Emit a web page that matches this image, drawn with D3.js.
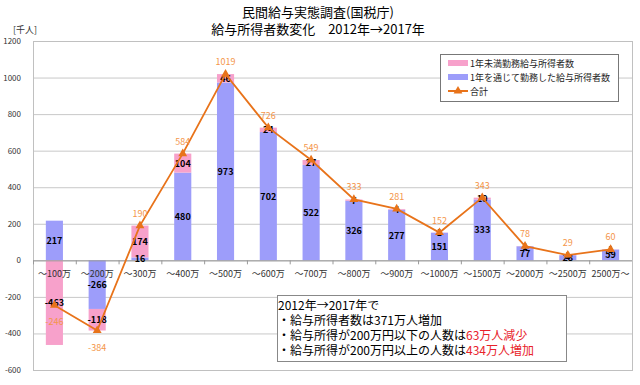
<!DOCTYPE html>
<html>
<head>
<meta charset="utf-8">
<script src="https://cdn.jsdelivr.net/npm/d3@7"></script>
<style>
  body { margin: 0; background: #fff; }
  svg { font-family: "Noto Sans CJK JP", "Noto Sans", sans-serif; }
</style>
</head>
<body>
<div id="chart"></div>
<script>
// data (千人)
const categories = ["～100万", "～200万", "～300万", "～400万", "～500万", "～600万", "～700万",
    "～800万", "～900万", "～1000万", "～1500万", "～2000万", "～2500万", "2500万～"];
const fullYear = [217, -266, 16, 480, 973, 702, 522, 326, 277, 151, 333, 77, 28, 59];
const partYear = [-463, -118, 174, 104, 46, 24, 27, 7, 4, 1, 10, 1, 1, 1];
const totals = [-246, -384, 190, 584, 1019, 726, 549, 333, 281, 152, 343, 78, 29, 60];
const yTicks = [1200, 1000, 800, 600, 400, 200, 0, -200, -400, -600];

const pink = "#f7a1cb", blue = "#9d9dfa", orange = "#e8731a", orangeText = "#f4964a";

let width = 640, height = 385;
let plot = { left: 33, right: 632, top: 41, bottom: 370 };

let svg = d3.select("#chart").append("svg")
    .attr("width", width)
    .attr("height", height);

let x = d3.scaleBand().domain(categories).range([plot.left, plot.right]);
let y = d3.scaleLinear().domain([-600, 1200]).range([plot.bottom, plot.top]);
let barW = x.bandwidth() * 0.4;

// title
svg.append("text").attr("x", 318).attr("y", 17).attr("text-anchor", "middle")
    .attr("font-size", 13).text("民間給与実態調査(国税庁)");
svg.append("text").attr("x", 318).attr("y", 34).attr("text-anchor", "middle")
    .attr("font-size", 13).text("給与所得者数変化　2012年→2017年");

svg.append("text").attr("x", 13).attr("y", 33).attr("font-size", 9).attr("fill", "#333")
    .text("[千人]");

// gridlines
svg.append("g").selectAll("line").data(yTicks).join("line")
    .attr("x1", plot.left).attr("x2", plot.right)
    .attr("y1", d => y(d) + 0.5).attr("y2", d => y(d) + 0.5)
    .attr("stroke", "#c8c8c8");

svg.append("rect")
    .attr("x", plot.left + 0.5).attr("y", plot.top + 0.5)
    .attr("width", plot.right - plot.left).attr("height", plot.bottom - plot.top)
    .attr("fill", "none").attr("stroke", "#c0c0c0");

// y labels
svg.append("g").selectAll("text").data(yTicks).join("text")
    .attr("x", 21).attr("y", d => y(d) + 3)
    .attr("text-anchor", "end").attr("font-size", 8).attr("fill", "#333")
    .text(d => d);

// stacked bars (Excel style: positives and negatives stack separately)
let rows = categories.map((c, i) => {
    let pos = 0, neg = 0;
    let b = fullYear[i], p = partYear[i];
    let b0 = b >= 0 ? pos : neg;
    if (b >= 0) pos += b; else neg += b;
    let b1 = b >= 0 ? pos : neg;
    let p0 = p >= 0 ? pos : neg;
    if (p >= 0) pos += p; else neg += p;
    let p1 = p >= 0 ? pos : neg;
    return { c, i, b0, b1, p0, p1 };
});

let bars = svg.append("g");
bars.selectAll(".blue").data(rows).join("rect")
    .attr("x", d => x(d.c) + (x.bandwidth() - barW) / 2)
    .attr("y", d => y(Math.max(d.b0, d.b1)))
    .attr("width", barW)
    .attr("height", d => Math.abs(y(d.b0) - y(d.b1)))
    .attr("fill", blue);
bars.selectAll(".pink").data(rows).join("rect")
    .attr("x", d => x(d.c) + (x.bandwidth() - barW) / 2)
    .attr("y", d => y(Math.max(d.p0, d.p1)))
    .attr("width", barW)
    .attr("height", d => Math.abs(y(d.p0) - y(d.p1)))
    .attr("fill", pink);

// zero axis + ticks
svg.append("line").attr("x1", plot.left).attr("x2", plot.right)
    .attr("y1", y(0) + 0.5).attr("y2", y(0) + 0.5).attr("stroke", "#999");
svg.append("g").selectAll("line").data(categories).join("line")
    .attr("x1", d => x(d) + 0.5).attr("x2", d => x(d) + 0.5)
    .attr("y1", y(0)).attr("y2", y(0) + 4).attr("stroke", "#999");

// category labels
svg.append("g").selectAll("text").data(categories).join("text")
    .attr("x", d => x(d) + x.bandwidth() / 2).attr("y", y(0) + 17)
    .attr("text-anchor", "middle").attr("font-size", 9).attr("fill", "#333")
    .text(d => d);

// segment labels
let segLabels = svg.append("g").attr("font-size", 9).attr("font-weight", "bold")
    .attr("text-anchor", "middle").attr("fill", "#000");
segLabels.selectAll(".bl").data(rows).join("text")
    .attr("x", d => x(d.c) + x.bandwidth() / 2)
    .attr("y", d => y((d.b0 + d.b1) / 2) + 3.5)
    .text(d => fullYear[d.i]);
segLabels.selectAll(".pl").data(rows).join("text")
    .attr("x", d => x(d.c) + x.bandwidth() / 2)
    .attr("y", d => y((d.p0 + d.p1) / 2) + 3.5)
    .text(d => partYear[d.i]);

// total line
let line = d3.line()
    .x((d, i) => x(categories[i]) + x.bandwidth() / 2)
    .y(d => y(d));
svg.append("path").datum(totals)
    .attr("d", line).attr("fill", "none")
    .attr("stroke", orange).attr("stroke-width", 1.8);

let tri = d3.symbol().type(d3.symbolTriangle).size(34);
svg.append("g").selectAll("path").data(totals).join("path")
    .attr("d", tri)
    .attr("transform", (d, i) => "translate(" + (x(categories[i]) + x.bandwidth() / 2) + "," + y(d) + ")")
    .attr("fill", orange);

svg.append("g").selectAll("text").data(totals).join("text")
    .attr("x", (d, i) => x(categories[i]) + x.bandwidth() / 2)
    .attr("y", d => d < 0 ? y(d) + 20 : y(d) - 9)
    .attr("text-anchor", "middle").attr("font-size", 9).attr("fill", orangeText)
    .text(d => d);

// legend
let legend = svg.append("g").attr("transform", "translate(440,54)");
legend.append("rect").attr("x", 0.5).attr("y", 0.5).attr("width", 178).attr("height", 47)
    .attr("fill", "#fff").attr("stroke", "#777");
let legendItems = [
    { label: "1年未満勤務給与所得者数", color: pink, type: "rect" },
    { label: "1年を通じて勤務した給与所得者数", color: blue, type: "rect" },
    { label: "合計", color: orange, type: "line" }
];
legendItems.forEach((d, i) => {
    let g = legend.append("g").attr("transform", "translate(8," + (9 + i * 14) + ")");
    if (d.type === "rect") {
        g.append("rect").attr("x", 0).attr("y", -3).attr("width", 20).attr("height", 6).attr("fill", d.color);
    } else {
        g.append("line").attr("x1", 0).attr("x2", 20).attr("y1", 0).attr("y2", 0)
            .attr("stroke", d.color).attr("stroke-width", 2);
        g.append("path").attr("d", tri).attr("transform", "translate(10,0)").attr("fill", d.color);
    }
    g.append("text").attr("x", 22).attr("y", 3.5).attr("font-size", 9).attr("fill", "#222").text(d.label);
});

// note box
let note = svg.append("g").attr("transform", "translate(277,295)");
note.append("rect").attr("x", 0.5).attr("y", 0.5).attr("width", 289).attr("height", 66)
    .attr("fill", "#fff").attr("stroke", "#888");
let noteLines = [
    [["2012年→2017年で", "#000"]],
    [["・給与所得者数は371万人増加", "#000"]],
    [["・給与所得が200万円以下の人数は", "#000"], ["63万人減少", "#e8222a"]],
    [["・給与所得が200万円以上の人数は", "#000"], ["434万人増加", "#e8222a"]]
];
noteLines.forEach((parts, i) => {
    let t = note.append("text").attr("x", 1).attr("y", 15 + i * 15).attr("font-size", 12);
    parts.forEach(p => t.append("tspan").attr("fill", p[1]).text(p[0]));
});
</script>
</body>
</html>
